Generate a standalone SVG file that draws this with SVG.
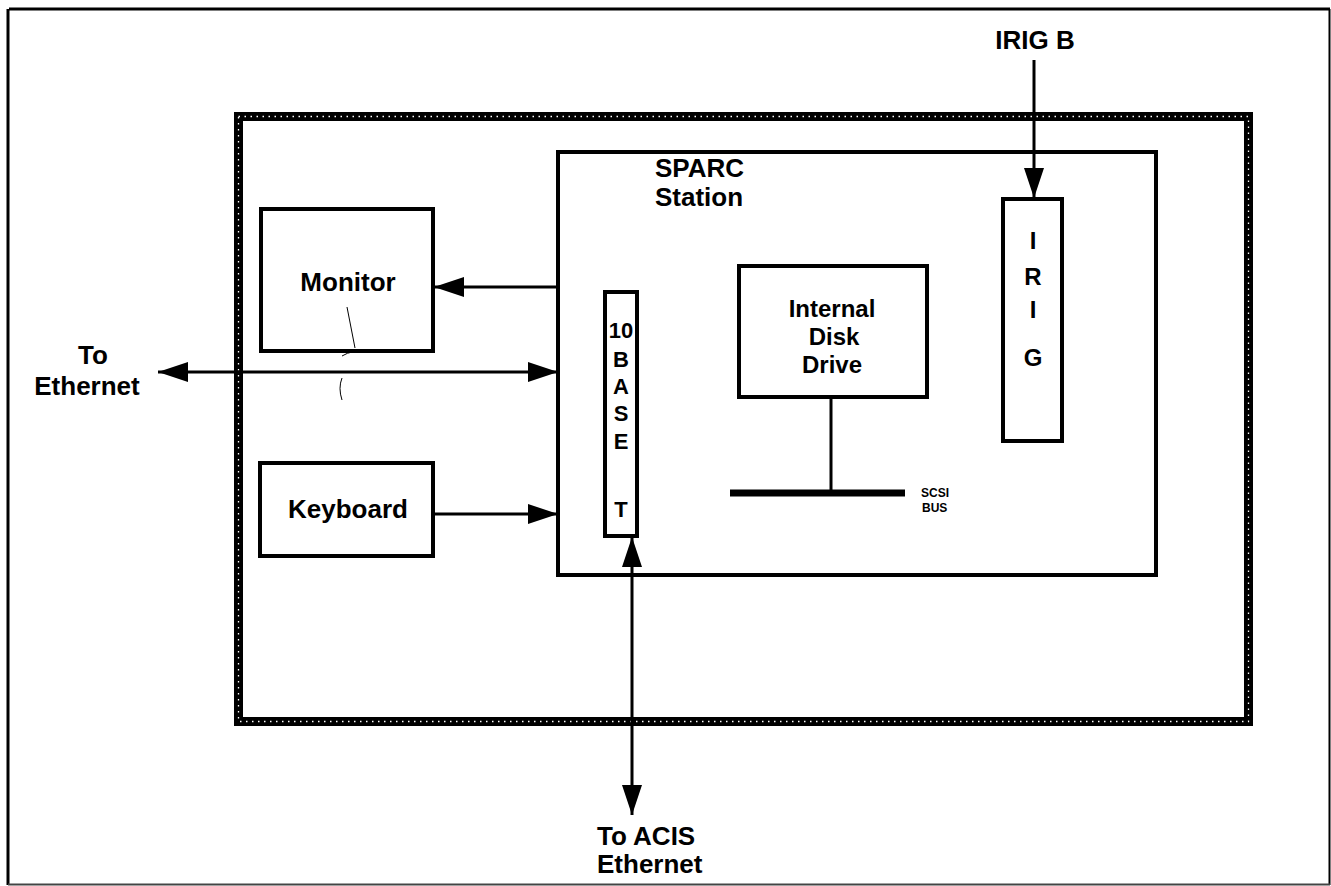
<svg xmlns="http://www.w3.org/2000/svg" width="1331" height="886" viewBox="0 0 1331 886">
<style>
text{font-family:"Liberation Sans",Arial,sans-serif;font-weight:bold;fill:#000}
.box{fill:none;stroke:#000;stroke-width:4}
.c{text-anchor:middle}
.lbl{font-size:26px}
.mid{font-size:24px}
.sm{font-size:22px}
.conn{stroke:#000;stroke-width:3;fill:none}
</style>
<defs>
<marker id="ah" viewBox="0 0 30 20" refX="30" refY="10" markerWidth="30" markerHeight="20" markerUnits="userSpaceOnUse" orient="auto-start-reverse">
<path d="M0,0 L30,10 L0,20 Z" fill="#000"/>
</marker>
</defs>
<rect width="1331" height="886" fill="#fff"/>
<g id="frame">
<line x1="9" y1="9" x2="1330" y2="9" stroke="#000" stroke-width="3"/>
<line x1="8" y1="9" x2="8" y2="885" stroke="#000" stroke-width="3"/>
<line x1="1329.5" y1="9" x2="1329.5" y2="885" stroke="#000" stroke-width="2"/>
<line x1="8" y1="884.5" x2="1330" y2="884.5" stroke="#444" stroke-width="2"/>
</g>
<g id="enclosure">
<rect x="238.5" y="116.5" width="1010" height="605" fill="none" stroke="#000" stroke-width="9"/>
<rect x="238.5" y="116.5" width="1010" height="605" fill="none" stroke="#fff" stroke-width="1.3" stroke-dasharray="1.5 4.5"/>
</g>
<g id="sparc">
<rect class="box" x="558" y="152" width="598" height="423"/>
<text class="lbl" x="655" y="177">SPARC</text>
<text class="lbl" x="655" y="206">Station</text>
</g>
<g id="monitor">
<rect class="box" x="261" y="209" width="172" height="142"/>
<text class="lbl c" x="348" y="291">Monitor</text>
</g>
<g id="keyboard">
<rect class="box" x="260" y="463" width="173" height="93"/>
<text class="lbl c" x="348" y="518">Keyboard</text>
</g>
<g id="tenbaset">
<rect class="box" x="605" y="292" width="32" height="244"/>
<text class="sm c" x="621" y="338">10</text>
<text class="sm c" x="621" y="367">B</text>
<text class="sm c" x="621" y="394">A</text>
<text class="sm c" x="621" y="421">S</text>
<text class="sm c" x="621" y="449">E</text>
<text class="sm c" x="621" y="517">T</text>
</g>
<g id="disk">
<rect class="box" x="739" y="266" width="188" height="131"/>
<text class="mid c" x="832" y="317">Internal</text>
<text class="mid c" x="834" y="345">Disk</text>
<text class="mid c" x="832" y="373">Drive</text>
</g>
<g id="irig">
<rect class="box" x="1003" y="199" width="59" height="242"/>
<text class="mid c" x="1033" y="249">I</text>
<text class="mid c" x="1033" y="285">R</text>
<text class="mid c" x="1033" y="318">I</text>
<text class="mid c" x="1033" y="366">G</text>
</g>
<g id="scsi">
<line x1="730" y1="493" x2="905" y2="493" stroke="#000" stroke-width="7"/>
<line x1="831" y1="397" x2="831" y2="493" stroke="#000" stroke-width="3"/>
<text x="921" y="497" style="font-size:12px">SCSI</text>
<text x="922" y="512" style="font-size:12px">BUS</text>
</g>
<g id="labels">
<text class="lbl c" x="1035" y="49">IRIG B</text>
<text class="lbl c" x="93" y="364">To</text>
<text class="lbl c" x="87" y="395">Ethernet</text>
<text class="lbl" x="597" y="845">To ACIS</text>
<text class="lbl" x="597" y="873">Ethernet</text>
</g>
<g id="connectors">
<line class="conn" x1="558" y1="287" x2="434" y2="287" marker-end="url(#ah)"/>
<line class="conn" x1="158" y1="372" x2="558" y2="372" marker-start="url(#ah)" marker-end="url(#ah)"/>
<line class="conn" x1="433" y1="514" x2="558" y2="514" marker-end="url(#ah)"/>
<line class="conn" x1="632" y1="537" x2="632" y2="815" marker-start="url(#ah)" marker-end="url(#ah)"/>
<line class="conn" x1="1034" y1="60" x2="1034" y2="198" marker-end="url(#ah)"/>
<path d="M347,307 L355,348 M356,351 Q346,353 342,356 M342,378 Q338,388 342,400" stroke="#000" stroke-width="1" fill="none"/>
</g>
</svg>
